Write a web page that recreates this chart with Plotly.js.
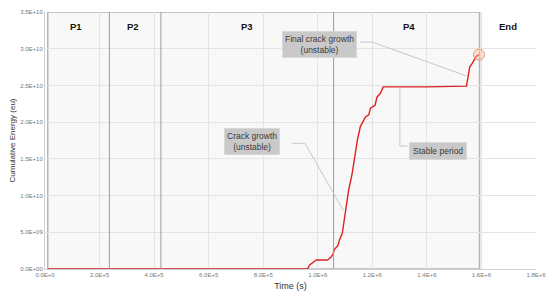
<!DOCTYPE html>
<html>
<head>
<meta charset="utf-8">
<script src="https://cdn.plot.ly/plotly-3.0.1.min.js"></script>
<style>
  html, body { margin: 0; padding: 0; background: #fff; }
  #chart { width: 550px; height: 295px; }
</style>
</head>
<body>
<div id="chart"></div>
<script>
// Cumulative energy curve
const time_s = [1e4, 2.4e5, 5e5, 8e5, 9.62e5, 9.7e5, 9.8e5, 9.95e5, 1.035e6, 1.048e6,
    1.056e6, 1.06e6, 1.074e6, 1.08e6, 1.09e6, 1.1e6, 1.113e6, 1.126e6, 1.136e6, 1.145e6,
    1.156e6, 1.168e6, 1.175e6, 1.187e6, 1.193e6, 1.21e6, 1.217e6, 1.229e6, 1.24e6, 1.4e6,
    1.545e6, 1.55e6, 1.557e6, 1.566e6, 1.572e6, 1.582e6, 1.591e6];
const energy_eu = [0, 0, 0, 0, 0, 5.4e8, 7.7e8, 1.22e9, 1.22e9, 1.6e9,
    2.0e9, 2.6e9, 3.2e9, 4.0e9, 4.9e9, 7.6e9, 1.07e10, 1.3e10, 1.55e10, 1.75e10,
    1.94e10, 2.03e10, 2.07e10, 2.1e10, 2.19e10, 2.23e10, 2.34e10, 2.39e10, 2.48e10, 2.48e10,
    2.49e10, 2.6e10, 2.75e10, 2.8e10, 2.84e10, 2.9e10, 2.92e10];

// Phase boundaries and labels
const phase_edges = [2.36e5, 4.25e5, 1.058e6];
const phase_names = ["P1", "P2", "P3", "P4", "End"];
const phase_label_x = [1.14e5, 3.23e5, 7.41e5, 1.334e6, 1.697e6];

// Tick labels
const x_ticks = [0, 2e5, 4e5, 6e5, 8e5, 1e6, 1.2e6, 1.4e6, 1.6e6, 1.8e6];
const x_tick_text = ["0.0E+0", "2.0E+5", "4.0E+5", "6.0E+5", "8.0E+5", "1.0E+6", "1.2E+6", "1.4E+6", "1.6E+6", "1.8E+6"];
const y_ticks = [0, 5e9, 1e10, 1.5e10, 2e10, 2.5e10, 3e10, 3.5e10];
const y_tick_text = ["0.0E+00", "5.0E+09", "1.0E+10", "1.5E+10", "2.0E+10", "2.5E+10", "3.0E+10", "3.5E+10"];

const last = time_s.length - 1;

const traces = [{
    type: "scatter",
    mode: "lines",
    x: time_s,
    y: energy_eu,
    line: { color: "#dc2222", width: 1.4 },
    hoverinfo: "skip"
}, {
    type: "scatter",
    mode: "markers",
    x: [time_s[last]],
    y: [energy_eu[last]],
    marker: {
        size: 11,
        color: "rgba(250,200,170,0.45)",
        line: { color: "#e59a6a", width: 1 }
    },
    hoverinfo: "skip"
}];

// Shaded test window plus boundary lines
const shapes = [{
    type: "rect", xref: "x", yref: "y", layer: "below",
    x0: 1e4, x1: 1.593e6, y0: 0, y1: 3.5e10,
    fillcolor: "#f8f8f8",
    line: { color: "#b4b4b4", width: 1.5 }
}];
phase_edges.forEach(x => shapes.push({
    type: "line", xref: "x", yref: "y", layer: "above",
    x0: x, x1: x, y0: 0, y1: 3.5e10,
    line: { color: "#9a9a9a", width: 1 }
}));

// Callout connectors
const connector = { color: "#c8c8c8", width: 1 };
shapes.push(
    { type: "path", xref: "x", yref: "y", line: connector,
      path: "M 1.155e6,3.09e10 L 1.2e6,3.09e10 L 1.545e6,2.63e10" },
    { type: "path", xref: "x", yref: "y", line: connector,
      path: "M 9.04e5,1.712e10 L 9.53e5,1.712e10 L 1.0936e6,8.0e9" },
    { type: "path", xref: "x", yref: "y", line: connector,
      path: "M 1.301e6,2.47e10 L 1.301e6,1.675e10 L 1.33e6,1.675e10" }
);

const annotations = phase_names.map((name, i) => ({
    x: phase_label_x[i], y: 3.3e10, xref: "x", yref: "y",
    text: "<b>" + name + "</b>",
    showarrow: false,
    font: { family: "Liberation Sans, Arial, sans-serif", size: 9.5, color: "#111" }
}));

const callout = {
    xref: "x", yref: "y", showarrow: false,
    bgcolor: "#c9c9c9", bordercolor: "#d8d8d8", borderwidth: 1, borderpad: 2,
    font: { family: "Liberation Sans, Arial, sans-serif", size: 8.5, color: "#3a3a3a" }
};
annotations.push(
    Object.assign({}, callout, { x: 1.008e6, y: 3.06e10, text: "Final crack growth<br>(unstable)" }),
    Object.assign({}, callout, { x: 7.59e5, y: 1.743e10, text: "Crack growth<br>(unstable)" }),
    Object.assign({}, callout, { x: 1.441e6, y: 1.607e10, text: "Stable period", borderpad: 3 })
);

Plotly.newPlot("chart", traces, {
    width: 550,
    height: 295,
    showlegend: false,
    margin: { l: 45, r: 14, t: 12, b: 26 },
    paper_bgcolor: "#fff",
    plot_bgcolor: "#fff",
    font: { family: "Liberation Sans, Arial, sans-serif", color: "#333" },
    shapes: shapes,
    annotations: annotations,

    xaxis: {
        range: [0, 1.8e6],
        tickvals: x_ticks,
        ticktext: x_tick_text,
        tickfont: { size: 6, color: "#777" },
        showgrid: true,
        gridcolor: "#e4e4e4",
        zeroline: false,
        showline: true,
        linecolor: "#d0d0d0",
        ticks: "",
        title: { text: "Time (s)", font: { size: 9, color: "#333" }, standoff: 5 }
    },

    yaxis: {
        range: [0, 3.5e10],
        tickvals: y_ticks,
        ticktext: y_tick_text,
        tickfont: { size: 6, color: "#777" },
        showgrid: true,
        gridcolor: "#e4e4e4",
        zeroline: false,
        showline: true,
        linecolor: "#d0d0d0",
        ticks: "",
        title: { text: "Cumulative Energy (eu)", font: { size: 8, color: "#333" }, standoff: 3 }
    }
}, { staticPlot: true });
</script>
</body>
</html>
